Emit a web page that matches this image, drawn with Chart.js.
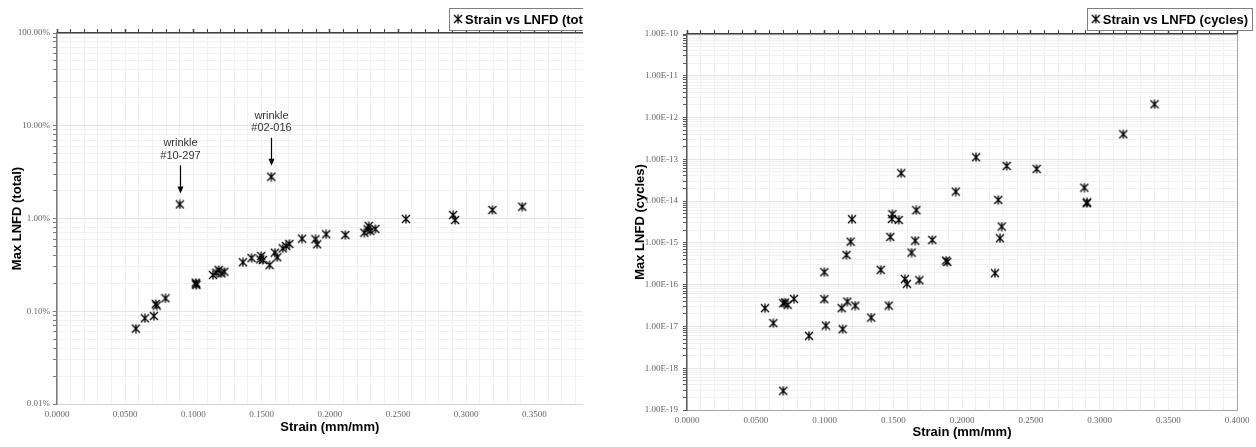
<!DOCTYPE html>
<html lang="en">
<head>
<meta charset="UTF-8">
<title>Strain vs LNFD</title>
<script src="https://cdn.jsdelivr.net/npm/chart.js"></script>
<style>
  html, body { margin: 0; padding: 0; background: #fff; }
  body { width: 1256px; height: 447px; position: relative; overflow: hidden; }
  #leftWrap { position: absolute; left: 0; top: 0; width: 583px; height: 447px; overflow: hidden; }
  #rightWrap { position: absolute; left: 622px; top: 0; width: 634px; height: 447px; }
</style>
</head>
<body>
<div id="leftWrap"><canvas id="totalChart" width="620" height="447"></canvas></div>
<div id="rightWrap"><canvas id="cyclesChart" width="634" height="447"></canvas></div>

<script>
// left chart: Max LNFD (total), in percent
const strainTotal = [0.0578, 0.0644, 0.0710, 0.0724, 0.0731, 0.0795, 0.0900, 0.1017, 0.1022, 0.1020,
  0.1143, 0.1168, 0.1185, 0.1205, 0.1227, 0.1363, 0.1426, 0.1490, 0.1497, 0.1509,
  0.1558, 0.1571, 0.1597, 0.1615, 0.1655, 0.1680, 0.1704, 0.1797, 0.1895, 0.1907,
  0.1973, 0.2114, 0.2253, 0.2277, 0.2285, 0.2297, 0.2334, 0.2558, 0.2904, 0.2919,
  0.3192, 0.3411];
const lnfdTotal = [0.065, 0.084, 0.089, 0.120, 0.115, 0.138, 1.42, 0.203, 0.192, 0.198,
  0.246, 0.260, 0.279, 0.256, 0.267, 0.337, 0.375, 0.363, 0.394, 0.357,
  0.315, 2.82, 0.428, 0.382, 0.477, 0.506, 0.531, 0.606, 0.597, 0.527,
  0.676, 0.664, 0.703, 0.765, 0.830, 0.733, 0.771, 0.988, 1.09, 0.964,
  1.236, 1.34];

// wrinkle call-outs (index into the arrays above)
const wrinkleIdx = [6, 21];
const wrinkleIds = ['#10-297', '#02-016'];

// right chart: Max LNFD (cycles)
const strainCycles = [0.0567, 0.0628, 0.0700, 0.0732, 0.0713, 0.0778, 0.0700, 0.0887, 0.0999, 0.0999,
  0.1010, 0.1125, 0.1132, 0.1166, 0.1224, 0.1160, 0.1190, 0.1200, 0.1340, 0.1409,
  0.1467, 0.1479, 0.1494, 0.1490, 0.1540, 0.1558, 0.1585, 0.1600, 0.1633, 0.1660,
  0.1668, 0.1690, 0.1784, 0.1884, 0.1893, 0.1955, 0.2102, 0.2240, 0.2264, 0.2289,
  0.2276, 0.2325, 0.2543, 0.2890, 0.2907, 0.2910, 0.3173, 0.3400];
const lnfdCycles = [2.74e-17, 1.20e-17, 3.6e-17, 3.29e-17, 3.73e-17, 4.57e-17, 2.88e-19, 5.96e-18, 1.99e-16, 4.5e-17,
  1.05e-17, 2.74e-17, 8.6e-18, 3.94e-17, 3.16e-17, 5.16e-16, 1.07e-15, 3.69e-15, 1.63e-17, 2.26e-16,
  3.16e-17, 1.39e-15, 4.86e-15, 3.75e-15, 3.55e-15, 4.65e-14, 1.36e-16, 1.05e-16, 5.86e-16, 1.13e-15,
  6.05e-15, 1.28e-16, 1.18e-15, 3.78e-16, 3.51e-16, 1.69e-14, 1.12e-13, 1.88e-16, 1.07e-14, 2.46e-15,
  1.29e-15, 6.95e-14, 5.89e-14, 2.10e-14, 8.9e-15, 9.3e-15, 3.98e-13, 2.08e-12];

// axis ticks
const totalDecades = [0.01, 0.1, 1, 10, 100];
const totalLabels = ['0.01%', '0.10%', '1.00%', '10.00%', '100.00%'];
const cycleDecades = [1e-19, 1e-18, 1e-17, 1e-16, 1e-15, 1e-14, 1e-13, 1e-12, 1e-11, 1e-10];
const cycleLabels = ['1.00E-19', '1.00E-18', '1.00E-17', '1.00E-16', '1.00E-15',
  '1.00E-14', '1.00E-13', '1.00E-12', '1.00E-11', '1.00E-10'];

const SANS = '"Liberation Sans", Arial, sans-serif';
const tickFont = { family: '"Liberation Serif", "Times New Roman", serif', size: 9 };
const titleFont = { family: SANS, size: 13, weight: 'bold' };

// star marker (x with a vertical bar)
const marker = document.createElement('canvas');
marker.width = 10; marker.height = 10;
(function () {
  const c = marker.getContext('2d');
  c.strokeStyle = '#000'; c.lineWidth = 1.3;
  c.beginPath();
  c.moveTo(1, 1); c.lineTo(9, 9);
  c.moveTo(9, 1); c.lineTo(1, 9);
  c.moveTo(5, 0.5); c.lineTo(5, 9.5);
  c.stroke();
})();

function logTicks(decades) {
  const t = [];
  decades.forEach((d, i) => {
    t.push({ value: d, major: true });
    if (i < decades.length - 1) {
      for (let k = 2; k <= 9; k++) t.push({ value: d * k, major: false });
    }
  });
  return t;
}

function points(xs, ys) {
  return xs.map((x, i) => ({ x: x, y: ys[i] }));
}

// boxed legend at top right
const boxLegend = {
  id: 'boxLegend',
  afterDraw(chart, args, opts) {
    const ctx = chart.ctx;
    const label = chart.data.datasets[0].label;
    ctx.save();
    ctx.font = 'bold 13px ' + SANS;
    const w = ctx.measureText(label).width + 20;
    const h = 22, y = 8, x = opts.right - w;
    ctx.fillStyle = '#fff';
    ctx.fillRect(x, y, w, h);
    ctx.strokeStyle = '#7f7f7f'; ctx.lineWidth = 1;
    ctx.strokeRect(Math.round(x) + 0.5, y + 0.5, Math.round(w), h);
    ctx.drawImage(marker, x + 4, y + 6);
    ctx.fillStyle = '#000'; ctx.textBaseline = 'middle'; ctx.textAlign = 'left';
    ctx.fillText(label, x + 16, y + h / 2 + 1);
    ctx.restore();
  }
};

// wrinkle call-outs with arrows
const wrinkleNotes = {
  id: 'wrinkleNotes',
  afterDatasetsDraw(chart) {
    const { ctx, scales } = chart;
    ctx.save();
    wrinkleIdx.forEach((idx, i) => {
      const px = Math.round(scales.x.getPixelForValue(strainTotal[idx])) + 0.5;
      const py = scales.y.getPixelForValue(lnfdTotal[idx]);
      ctx.strokeStyle = '#000'; ctx.fillStyle = '#000'; ctx.lineWidth = 1.2;
      ctx.beginPath(); ctx.moveTo(px, py - 39); ctx.lineTo(px, py - 17); ctx.stroke();
      ctx.beginPath(); ctx.moveTo(px - 3, py - 18); ctx.lineTo(px + 3, py - 18); ctx.lineTo(px, py - 11);
      ctx.closePath(); ctx.fill();
      ctx.font = '11px ' + SANS; ctx.textAlign = 'center'; ctx.textBaseline = 'middle';
      ctx.fillStyle = '#333';
      ctx.fillText('wrinkle', px, py - 61);
      ctx.fillText(wrinkleIds[i], px, py - 48.5);
    });
    ctx.restore();
  }
};

function strainScales(o) {
  return {
    x: {
      type: 'linear', position: 'bottom', min: 0, max: 0.4,
      ticks: {
        stepSize: 0.01, autoSkip: false, maxRotation: 0, padding: 5,
        font: tickFont, color: '#666',
        callback: v => (Math.round(v * 100) % 5 === 0 ? v.toFixed(4) : '')
      },
      grid: { color: '#f1f1f1', drawTicks: false },
      border: { color: o.bottomBorder, width: 1 },
      title: { display: true, text: 'Strain (mm/mm)', font: titleFont, color: '#000', padding: 0 },
      afterFit: s => { s.height = o.xHeight; }
    },
    xTop: {
      type: 'linear', position: 'top', min: 0, max: 0.4,
      ticks: { display: false, stepSize: 0.01, autoSkip: false },
      grid: {
        drawOnChartArea: false, tickLength: 4, tickColor: '#404040',
        tickWidth: c => (c.tick && Math.round(c.tick.value * 100) % 5 === 0 ? 1.5 : 1)
      },
      border: { color: '#404040', width: 1.5 },
      afterFit: s => { s.height = 0; }
    },
    y: {
      type: 'logarithmic', position: 'left', min: o.decades[0], max: o.decades[o.decades.length - 1],
      afterBuildTicks: s => { s.ticks = logTicks(o.decades); },
      ticks: {
        autoSkip: false, padding: o.yPad, font: tickFont, color: '#666',
        callback: v => { const i = o.decades.indexOf(v); return i < 0 ? '' : o.labels[i]; }
      },
      grid: {
        color: c => (c.tick && c.tick.major ? '#e6e6e6' : '#f1f1f1'),
        tickLength: 4, tickColor: o.yBorder
      },
      border: { color: o.yBorder, width: 1.5 },
      title: { display: true, text: o.yTitle, font: titleFont, color: '#000', padding: { top: o.yTitlePad, bottom: 0 } },
      afterFit: s => { s.width = o.yWidth; }
    }
  };
}

const leftScales = strainScales({
  bottomBorder: '#d4d4d4', xHeight: 31, decades: totalDecades, labels: totalLabels,
  yPad: 3, yBorder: '#7a7a7a', yTitle: 'Max LNFD (total)', yTitlePad: 10, yWidth: 57
});

new Chart(document.getElementById('totalChart'), {
  type: 'scatter',
  data: {
    datasets: [{
      label: 'Strain vs LNFD (total)',
      data: points(strainTotal, lnfdTotal),
      pointStyle: marker,
      showLine: false
    }]
  },
  options: {
    responsive: false, animation: false, events: [], devicePixelRatio: 1,
    layout: { padding: { top: 33, left: 0, right: 16, bottom: 12 } },
    scales: leftScales,
    plugins: {
      legend: { display: false },
      tooltip: { enabled: false },
      boxLegend: { right: 602 }
    }
  },
  plugins: [wrinkleNotes, boxLegend]
});

const rightScales = strainScales({
  bottomBorder: '#a6a6a6', xHeight: 30, decades: cycleDecades, labels: cycleLabels,
  yPad: 5, yBorder: '#595959', yTitle: 'Max LNFD (cycles)', yTitlePad: 11, yWidth: 65
});
rightScales.yRight = {
  type: 'linear', position: 'right', min: 0, max: 1,
  ticks: { display: false },
  grid: { drawOnChartArea: false, drawTicks: false },
  border: { color: '#a6a6a6', width: 1 },
  afterFit: s => { s.width = 0; }
};

new Chart(document.getElementById('cyclesChart'), {
  type: 'scatter',
  data: {
    datasets: [{
      label: 'Strain vs LNFD (cycles)',
      data: points(strainCycles, lnfdCycles),
      pointStyle: marker,
      showLine: false
    }]
  },
  options: {
    responsive: false, animation: false, events: [], devicePixelRatio: 1,
    layout: { padding: { top: 34, left: 0, right: 19, bottom: 7 } },
    scales: rightScales,
    plugins: {
      legend: { display: false },
      tooltip: { enabled: false },
      boxLegend: { right: 630 }
    }
  },
  plugins: [boxLegend]
});
</script>
</body>
</html>
